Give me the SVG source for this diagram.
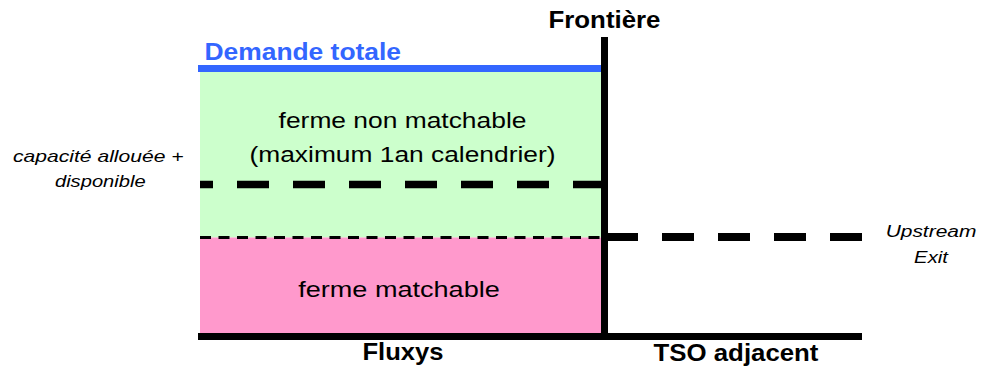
<svg xmlns="http://www.w3.org/2000/svg" width="981" height="368" viewBox="0 0 981 368">
<style>
  text { font-family: "Liberation Sans", Arial, sans-serif; fill: #000; text-anchor: middle; }
  .b { font-weight: bold; font-size: 24px; }
  .r { font-size: 22px; }
  .i { font-style: italic; font-size: 16px; }
  .blue { fill: #3366FF; text-anchor: start; }
  .solid { stroke: #000; stroke-width: 7; fill: none; }
  .dashT { stroke: #000; stroke-width: 7.5; stroke-dasharray: 32 24; fill: none; }
  .dashR { stroke: #000; stroke-width: 8; stroke-dasharray: 32 24; fill: none; }
  .dashS { stroke: #000; stroke-width: 3; stroke-dasharray: 11 7.5; fill: none; }
</style>
<rect width="981" height="368" fill="#ffffff"/>
<g id="zone-non-matchable">
  <rect x="200" y="72" width="401" height="165.5" fill="#CCFFCC"/>
  <text class="r" transform="translate(402.5 127.5) scale(1.2 1)">ferme non matchable</text>
  <text class="r" transform="translate(402.5 161.5) scale(1.198 1)">(maximum 1an calendrier)</text>
</g>
<g id="zone-matchable">
  <rect x="200" y="237.5" width="401" height="96" fill="#FF99CC"/>
  <text class="r" transform="translate(399 297) scale(1.23 1)">ferme matchable</text>
</g>
<g id="demande-totale">
  <line x1="198" y1="68.5" x2="602" y2="68.5" stroke="#3366FF" stroke-width="7"/>
  <text class="b blue" transform="translate(204.5 60) scale(1.1 1)">Demande totale</text>
</g>
<g id="lines">
  <line class="dashT" x1="200" y1="184.5" x2="601" y2="184.5" stroke-dashoffset="19"/>
  <line class="dashS" x1="200" y1="237.5" x2="601" y2="237.5"/>
  <line class="dashR" x1="606" y1="237" x2="862" y2="237"/>
  <line class="solid" x1="604.5" y1="37" x2="604.5" y2="340"/>
  <line class="solid" x1="198" y1="336.5" x2="862" y2="336.5"/>
</g>
<g id="frontiere">
  <text class="b" transform="translate(604.5 28) scale(1.077 1)">Frontière</text>
</g>
<g id="capacite">
  <text class="i" transform="translate(98.3 162) scale(1.32 1)">capacité allouée +</text>
  <text class="i" transform="translate(100.3 187) scale(1.26 1)">disponible</text>
</g>
<g id="upstream-exit">
  <text class="i" transform="translate(931 237) scale(1.31 1)">Upstream</text>
  <text class="i" transform="translate(931 263) scale(1.27 1)">Exit</text>
</g>
<g id="fluxys">
  <text class="b" transform="translate(403 360) scale(1.066 1)">Fluxys</text>
</g>
<g id="tso-adjacent">
  <text class="b" transform="translate(736 360.5) scale(1.076 1)">TSO adjacent</text>
</g>
</svg>
